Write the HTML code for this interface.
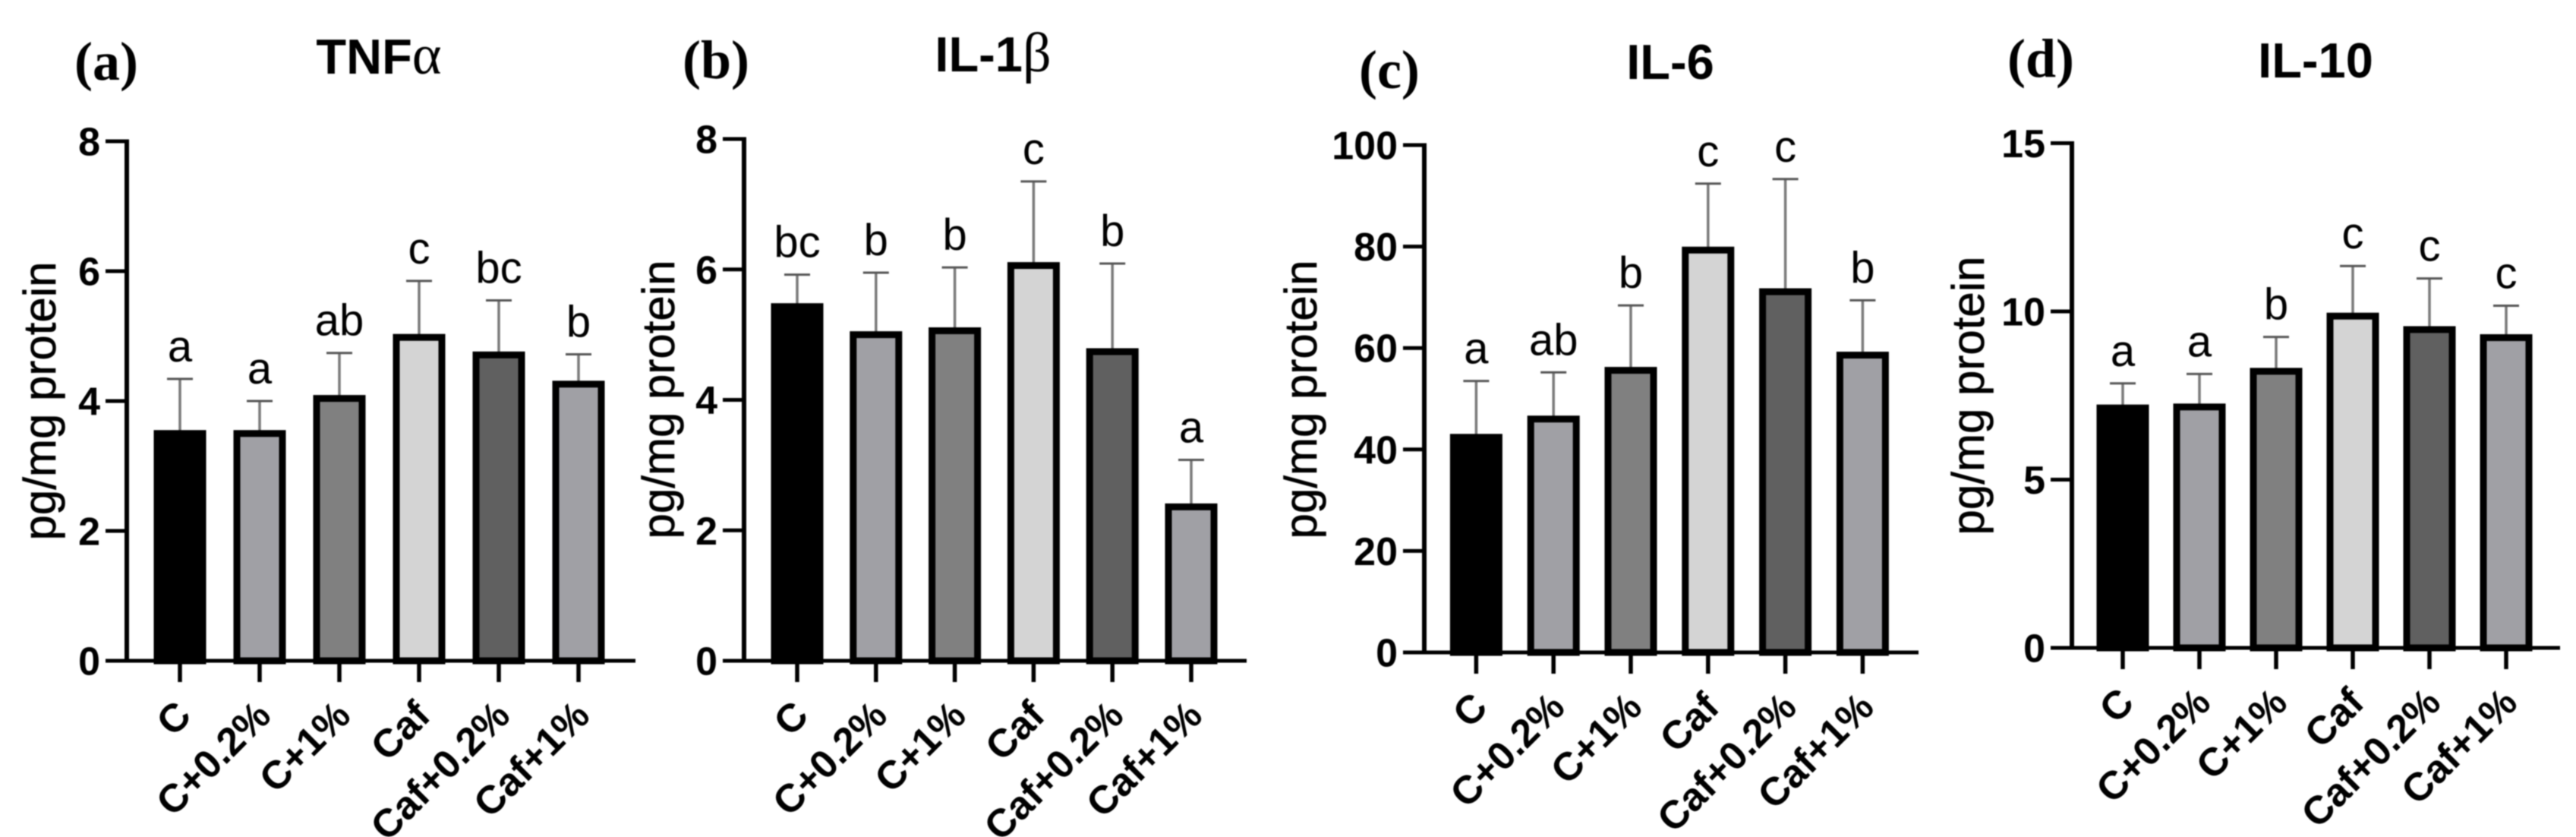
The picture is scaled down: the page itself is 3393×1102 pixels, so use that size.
<!DOCTYPE html>
<html lang="en">
<head>
<meta charset="utf-8">
<title>Cytokine levels bar charts</title>
<style>
html,body{margin:0;padding:0;background:#fff;width:3393px;height:1102px;overflow:hidden}
svg{display:block;filter:blur(0.9px)}
text{font-family:"Liberation Sans",sans-serif;fill:#000}
.panel-label{font-family:"Liberation Serif",serif;font-weight:700;font-size:72px}
.title{font-weight:700;font-size:65px}
.greek{font-family:"Liberation Serif",serif;font-weight:400;font-size:74px}
.ytitle{font-size:60px;stroke:#000;stroke-width:.6px}
.tick{font-weight:700;font-size:52px}
.xtick{font-weight:700;font-size:52px}
.sig{font-size:58px}
</style>
</head>
<body>
<svg id="chart" xmlns="http://www.w3.org/2000/svg" width="3393" height="1102" viewBox="0 0 3393 1102">
  <text class="panel-label" x="98" y="105">(a)</text>
  <text class="panel-label" x="899" y="103">(b)</text>
  <text class="panel-label" x="1790" y="116">(c)</text>
  <text class="panel-label" x="2644" y="101">(d)</text>
  <text class="title" text-anchor="middle" x="499" y="97">TNF<tspan class="greek">α</tspan></text>
  <text class="title" text-anchor="middle" x="1308" y="94">IL-1<tspan class="greek">β</tspan></text>
  <text class="title" text-anchor="middle" x="2200" y="104">IL-6</text>
  <text class="title" text-anchor="middle" x="3050" y="102">IL-10</text>
  <text class="ytitle" text-anchor="middle" transform="translate(73,528) rotate(-90)">pg/mg protein</text>
  <text class="ytitle" text-anchor="middle" transform="translate(888,526) rotate(-90)">pg/mg protein</text>
  <text class="ytitle" text-anchor="middle" transform="translate(1734,526) rotate(-90)">pg/mg protein</text>
  <text class="ytitle" text-anchor="middle" transform="translate(2613,521) rotate(-90)">pg/mg protein</text>
</svg>
<script>
var categories = ["C", "C+0.2%", "C+1%", "Caf", "Caf+0.2%", "Caf+1%"];
var barColors = ["#000000", "#a0a0a5", "#808080", "#d4d4d4", "#606060", "#a0a0a5"];

var tnfTicks = [0, 2, 4, 6, 8];
var tnfMeans = [3.50, 3.50, 4.04, 4.98, 4.71, 4.26];
var tnfUpper = [4.34, 4.00, 4.74, 5.85, 5.55, 4.72];
var tnfLetters = ["a", "a", "ab", "c", "bc", "b"];

var il1Ticks = [0, 2, 4, 6, 8];
var il1Means = [5.43, 5.00, 5.06, 6.06, 4.74, 2.36];
var il1Upper = [5.92, 5.95, 6.03, 7.35, 6.09, 3.08];
var il1Letters = ["bc", "b", "b", "c", "b", "a"];

var il6Ticks = [0, 20, 40, 60, 80, 100];
var il6Means = [42.4, 46.0, 55.6, 79.3, 71.1, 58.6];
var il6Upper = [53.5, 55.2, 68.4, 92.4, 93.3, 69.4];
var il6Letters = ["a", "ab", "b", "c", "c", "b"];

var il10Ticks = [0, 5, 10, 15];
var il10Means = [7.13, 7.16, 8.22, 9.86, 9.46, 9.22];
var il10Upper = [7.86, 8.14, 9.24, 11.35, 10.98, 10.17];
var il10Letters = ["a", "a", "b", "c", "c", "c"];

var NS = "http://www.w3.org/2000/svg";
var svg = document.getElementById("chart");

function mk(tag, attrs, parent) {
  var el = document.createElementNS(NS, tag);
  for (var k in attrs) el.setAttribute(k, attrs[k]);
  parent.appendChild(el);
  return el;
}

function drawPanel(id, layout, ticks, means, upper, letters) {
  var g = mk("g", {}, svg);
  
  
  var maxV = ticks[ticks.length - 1];
  function y(v) { return layout.y0 - (v / maxV) * (layout.y0 - layout.yTop); }
  function x(i) { return layout.x0 + i * layout.step; }

  categories.forEach(function (cat, i) {
    var cx = x(i);
    var capY = y(upper[i]);
    var stem = mk("line", {x1: cx, x2: cx, y1: y(means[i]), y2: capY, stroke: "#7a7a7a", "stroke-width": 3.5}, g);
    
    
    var cap = mk("line", {x1: cx - 17, x2: cx + 17, y1: capY, y2: capY, stroke: "#555", "stroke-width": 3}, g);
    
    
    var bar = mk("rect", {x: cx - 30, y: y(means[i]), width: 60, height: layout.y0 - y(means[i]), fill: barColors[i], stroke: "#000", "stroke-width": 9}, g);
    
    
    var sig = mk("text", {"class": "sig", "text-anchor": "middle", x: cx, y: capY - 23}, g);
    sig.textContent = letters[i];
    
    
    var tick = mk("line", {x1: cx, x2: cx, y1: layout.y0, y2: layout.y0 + 28, stroke: "#000", "stroke-width": 5.5}, g);
    
    
    var lab = mk("text", {"class": "xtick", "text-anchor": "end", transform: "translate(" + (cx + 17.5) + "," + (layout.y0 + 75) + ") rotate(-45)"}, g);
    lab.textContent = cat;
    
    
  });

  ticks.forEach(function (t) {
    var ty = y(t);
    var tl = mk("line", {x1: layout.axisX - 28, x2: layout.axisX, y1: ty, y2: ty, stroke: "#000", "stroke-width": 5}, g);
    
    
    var lab = mk("text", {"class": "tick", "text-anchor": "end", x: layout.axisX - 35, y: ty + 18.5}, g);
    lab.textContent = t;
    
    
  });

  var yAxis = mk("line", {x1: layout.axisX, x2: layout.axisX, y1: layout.yTop - 2.5, y2: layout.y0 + 2, stroke: "#000", "stroke-width": 6}, g);
  
  
  var xAxis = mk("line", {x1: layout.axisX - 28, x2: layout.xEnd, y1: layout.y0, y2: layout.y0, stroke: "#000", "stroke-width": 5}, g);
  
  
}

drawPanel("tnf", {axisX: 167, yTop: 186, y0: 870, x0: 237, step: 105, xEnd: 837}, tnfTicks, tnfMeans, tnfUpper, tnfLetters);
drawPanel("il1", {axisX: 980, yTop: 183, y0: 870, x0: 1050, step: 103.8, xEnd: 1642}, il1Ticks, il1Means, il1Upper, il1Letters);
drawPanel("il6", {axisX: 1876, yTop: 191, y0: 859, x0: 1944.4, step: 101.8, xEnd: 2527}, il6Ticks, il6Means, il6Upper, il6Letters);
drawPanel("il10", {axisX: 2729, yTop: 188.5, y0: 853, x0: 2796, step: 101, xEnd: 3372}, il10Ticks, il10Means, il10Upper, il10Letters);
</script>
</body>
</html>
